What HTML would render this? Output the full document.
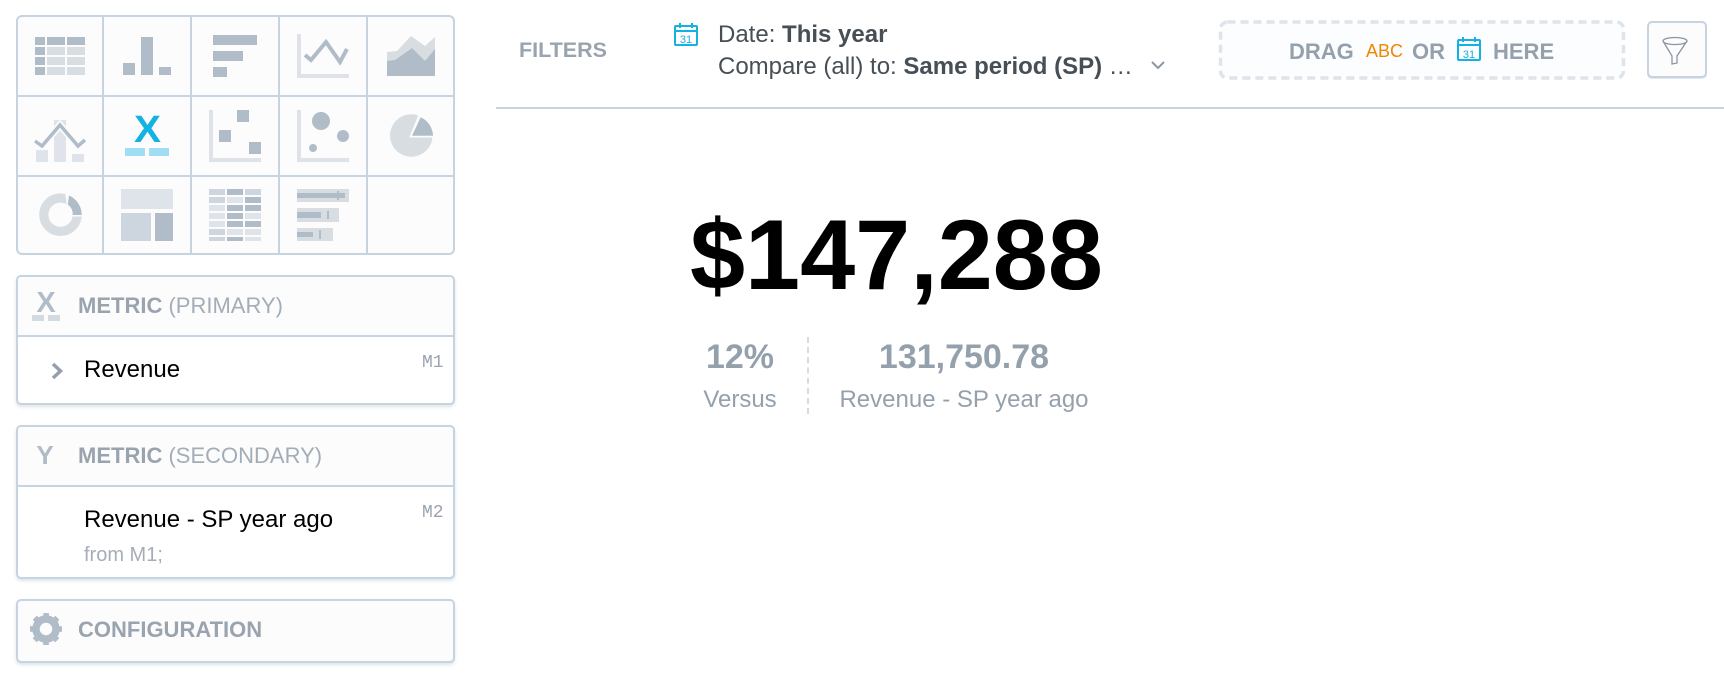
<!DOCTYPE html>
<html lang="en">
<head>
<meta charset="utf-8">
<title>Headline KPI</title>
<style>
html,body{margin:0;padding:0;background:#fff;}
body{width:1724px;height:681px;overflow:hidden;position:relative;font-family:"Liberation Sans",sans-serif;}
.t{position:absolute;white-space:nowrap;line-height:1;margin:0;}
.panel{position:absolute;left:16px;width:435px;box-sizing:content-box;border:2px solid #c6d3e0;border-radius:5px;background:#fff;box-shadow:0 2px 3px rgba(150,165,180,.3);}
.head{position:absolute;left:0;right:0;top:0;background:#fcfcfd;border-bottom:2px solid #c6d3e0;border-radius:4px 4px 0 0;}
svg{position:absolute;left:0;top:0;overflow:visible;}
.dk{fill:#b0bdc9}.lt{fill:#d8dde1}.ax{fill:#dfe3e9}
</style>
</head>
<body>

<div class="panel" style="top:275px;height:126px">
  <div class="head" style="height:58px"></div>
</div>
<div class="panel" style="top:425px;height:150px">
  <div class="head" style="height:58px"></div>
</div>
<div class="panel" style="top:599px;height:60px;background:#fcfcfd"></div>

<svg width="1724" height="681" viewBox="0 0 1724 681">
  <g>
    <rect x="17" y="16" width="437" height="238" rx="5" fill="#fcfcfd" stroke="#c6d3e0" stroke-width="2"/>
    <path d="M103 16V254M191 16V254M279 16V254M367 16V254M17 96H455M17 176H455" stroke="#c6d3e0" stroke-width="2" fill="none"/>
  </g>

  <g>
    <path class="dk" d="M35 37h10v8H35zM47 37h18v8H47zM67 37h18v8H67zM35 47h10v8H35zM35 57h10v8H35zM35 67h10v8H35z"/>
    <path class="lt" d="M47 47h18v8H47zM67 47h18v8H67zM47 57h18v8H47zM67 57h18v8H67zM47 67h18v8H47zM67 67h18v8H67z"/>
  </g>
  <path class="dk" d="M123 63h12v12h-12zM141 37h12v38h-12zM159 67h12v8h-12z"/>
  <path class="dk" d="M213 35h44v10h-44zM213 51h30v10h-30zM213 67h14v10h-14z"/>
  <g>
    <path class="ax" d="M297 34h4v40h48v4h-52z"/>
    <polyline points="305,55 311,60 326,42 340,62 347,49" fill="none" stroke="#b0bdc9" stroke-width="4"/>
  </g>
  <g>
    <polygon class="lt" points="387,52 397,51 411,36 425,46 435,37 435,76 387,76"/>
    <polygon class="dk" points="387,61 395,60 412,48 425,61 435,49 435,76 387,76"/>
  </g>
  <g>
    <path fill="#e0e4ea" d="M36 150h12v12H36zM54 120h12v42H54zM72 154h12v8H72z"/>
    <polyline points="35,141 42,146 60,125 78,146 85,140" fill="none" stroke="#fcfcfd" stroke-width="7"/>
    <polyline points="35,141 42,146 60,125 78,146 85,140" fill="none" stroke="#b0bdc9" stroke-width="3.500"/>
  </g>
  <g>
    <text x="134" y="142" textLength="27" lengthAdjust="spacingAndGlyphs" font-family="'Liberation Sans',sans-serif" font-weight="700" font-size="38" fill="#14b2e2">X</text>
    <path fill="#a0dff3" d="M125 148h20v8h-20zM149 148h20v8h-20z"/>
  </g>
  <g>
    <path class="ax" d="M209 110h4v48h48v4h-52z"/>
    <path class="dk" d="M237 110h12v12h-12zM219 130h12v12h-12zM249 142h12v12h-12z"/>
  </g>
  <g>
    <path class="ax" d="M297 110h4v48h48v4h-52z"/>
    <circle class="dk" cx="321" cy="121" r="9"/>
    <circle class="dk" cx="343" cy="136" r="6"/>
    <circle class="dk" cx="313" cy="148" r="4"/>
  </g>
  <g>
    <circle class="lt" cx="411.300" cy="135.500" r="21.300"/>
    <polygon points="409.300,137.500 419.500,112 440,112 440,137.500" fill="#fcfcfd"/>
    <path class="dk" d="M412 135.700 L420.700 117.300 A21 21 0 0 1 433 135.700 Z"/>
  </g>
  <g>
    <circle cx="60.500" cy="214.700" r="16.700" fill="none" stroke="#d8dde1" stroke-width="9.200"/>
    <polygon points="65,191 86,191 86,216.500 71.500,216.500 70.500,210 66.500,204" fill="#fcfcfd"/>
    <path class="dk" d="M69 195.500 A21 21 0 0 1 81.700 215 L72.700 215 A12 12 0 0 0 67.800 204.500 Z"/>
  </g>
  <g>
    <rect x="121" y="189" width="52" height="20" fill="#dfe3ea"/>
    <rect x="121" y="213" width="30" height="28" fill="#cdd5de"/>
    <rect x="155" y="213" width="18" height="28" class="dk"/>
  </g>
  <g>
    <path fill="#cdd5de" d="M209 189h16v6h-16zM245 189h16v6h-16zM209 197h16v6h-16zM209 229h16v6h-16zM209 237h16v4h-16z"/>
    <path class="dk" d="M227 189h16v6h-16zM245 197h16v6h-16zM227 205h16v6h-16zM245 205h16v6h-16zM227 213h16v6h-16zM227 221h16v6h-16zM245 221h16v6h-16zM227 237h16v4h-16z"/>
    <path fill="#dfe3ea" d="M227 197h16v6h-16zM209 205h16v6h-16zM209 213h16v6h-16zM245 213h16v6h-16zM209 221h16v6h-16zM227 229h16v6h-16zM245 229h16v6h-16zM245 237h16v4h-16z"/>
  </g>
  <g>
    <path class="lt" d="M297 189h52v13h-52zM297 208h42v14h-42zM297 228h36v13h-36z"/>
    <path class="dk" d="M297 193h48v5h-48zM297 212h24v6h-24zM297 232h16v5h-16zM337 191h2v9h-2zM327 211h2v8h-2zM319 230h2v9h-2z"/>
  </g>

  <g>
    <text x="46" y="312" font-family="'Liberation Sans',sans-serif" font-weight="700" font-size="29" text-anchor="middle" fill="#b0bdc9">X</text>
    <path fill="#d3dae0" d="M32 315h12v6H32zM48 315h12v6H48z"/>
  </g>
  <polyline points="53,364 60.500,371 53,378" fill="none" stroke="#959fab" stroke-width="3.500"/>
  <text x="45" y="464" font-family="'Liberation Sans',sans-serif" font-weight="700" font-size="26" text-anchor="middle" fill="#b0bdc9">Y</text>
  <g fill="none" stroke="#b0bdc9">
    <circle cx="46" cy="629" r="10" stroke-width="7.500"/>
    <circle cx="46" cy="629" r="13.800" stroke-width="4.500" stroke-dasharray="5.420 5.420" stroke-dashoffset="2.710"/>
  </g>

  <g fill="none" stroke="#14b2e2" stroke-width="2">
    <rect x="675" y="26" width="22" height="19" rx="1"/>
    <path d="M675 31h22M680 23v5M692 23v5"/>
    <text x="686" y="43" font-family="'Liberation Sans',sans-serif" font-size="11" text-anchor="middle" fill="#14b2e2" stroke="none">31</text>
  </g>
  <polyline points="1152,62 1158,68 1164,62" fill="none" stroke="#8b98a6" stroke-width="2"/>
  <rect x="496" y="107" width="1228" height="2" fill="#c6d3e0"/>

  <rect x="1220.500" y="22" width="403" height="56" rx="7" fill="#fbfdff" stroke="#dde4ea" stroke-width="3.500" stroke-dasharray="8 5"/>
  <g fill="none" stroke="#14b2e2" stroke-width="2">
    <rect x="1458" y="40" width="22" height="20" rx="1"/>
    <path d="M1458 45h22M1463 37v5M1475 37v5"/>
    <text x="1469" y="58" font-family="'Liberation Sans',sans-serif" font-size="11" text-anchor="middle" fill="#14b2e2" stroke="none">31</text>
  </g>

  <rect x="1647" y="24" width="60" height="55" rx="5" fill="#e2e8ee"/>
  <rect x="1648" y="22" width="58" height="55" rx="4" fill="#fcfcfd" stroke="#c6d3e0" stroke-width="2"/>
  <g fill="none" stroke="#8a95a2" stroke-width="1.300">
    <ellipse cx="1675" cy="41" rx="12" ry="3.500"/>
    <path d="M1663 41L1672 56V64L1677 63V56L1687 41"/>
  </g>
</svg>

<p class="t" style="left:78px;top:295px;font-size:22px;color:#9aa4af"><b>METRIC</b> <span style="color:#a3adb8">(PRIMARY)</span></p>
<p class="t" style="left:84px;top:358px;font-size:24px;color:#000">Revenue</p>
<p class="t" style="left:422px;top:354px;font-family:'Liberation Mono',monospace;font-size:18px;color:#9aa4af">M1</p>

<p class="t" style="left:78px;top:445px;font-size:22px;color:#9aa4af"><b>METRIC</b> <span style="color:#a3adb8">(SECONDARY)</span></p>
<p class="t" style="left:84px;top:508px;font-size:24px;color:#000">Revenue - SP year ago</p>
<p class="t" style="left:422px;top:504px;font-family:'Liberation Mono',monospace;font-size:18px;color:#9aa4af">M2</p>
<p class="t" style="left:84px;top:545px;font-size:20px;color:#a5adb8">from M1;</p>

<p class="t" style="left:78px;top:619px;font-size:22px;font-weight:700;color:#9aa4af">CONFIGURATION</p>

<p class="t" style="left:519px;top:40px;font-size:21.500px;font-weight:700;color:#9aa4af">FILTERS</p>
<p class="t" style="left:718px;top:23px;font-size:24px;color:#464e56">Date: <b>This year</b></p>
<p class="t" style="left:718px;top:55px;font-size:24px;color:#464e56">Compare (all) to: <b>Same period (SP)</b> …</p>

<p class="t" style="left:1289px;top:41px;font-size:22px;font-weight:700;color:#94a1ad">DRAG</p>
<p class="t" style="left:1366px;top:42px;font-size:18px;color:#f18600">ABC</p>
<p class="t" style="left:1412px;top:41px;font-size:22px;font-weight:700;color:#94a1ad">OR</p>
<p class="t" style="left:1493px;top:41px;font-size:22px;font-weight:700;color:#94a1ad">HERE</p>

<p class="t" style="left:690px;top:204.500px;font-size:99px;font-weight:700;color:#000">$147,288</p>
<p class="t" style="left:640px;top:340px;width:200px;text-align:center;font-size:34px;font-weight:700;color:#94a1ad">12%</p>
<p class="t" style="left:640px;top:388px;width:200px;text-align:center;font-size:24px;color:#94a1ad">Versus</p>
<div style="position:absolute;left:807px;top:337px;height:77px;border-left:2px dashed #d5dde4"></div>
<p class="t" style="left:764px;top:340px;width:400px;text-align:center;font-size:34px;font-weight:700;color:#94a1ad">131,750.78</p>
<p class="t" style="left:764px;top:388px;width:400px;text-align:center;font-size:24px;color:#94a1ad">Revenue - SP year ago</p>

</body>
</html>
